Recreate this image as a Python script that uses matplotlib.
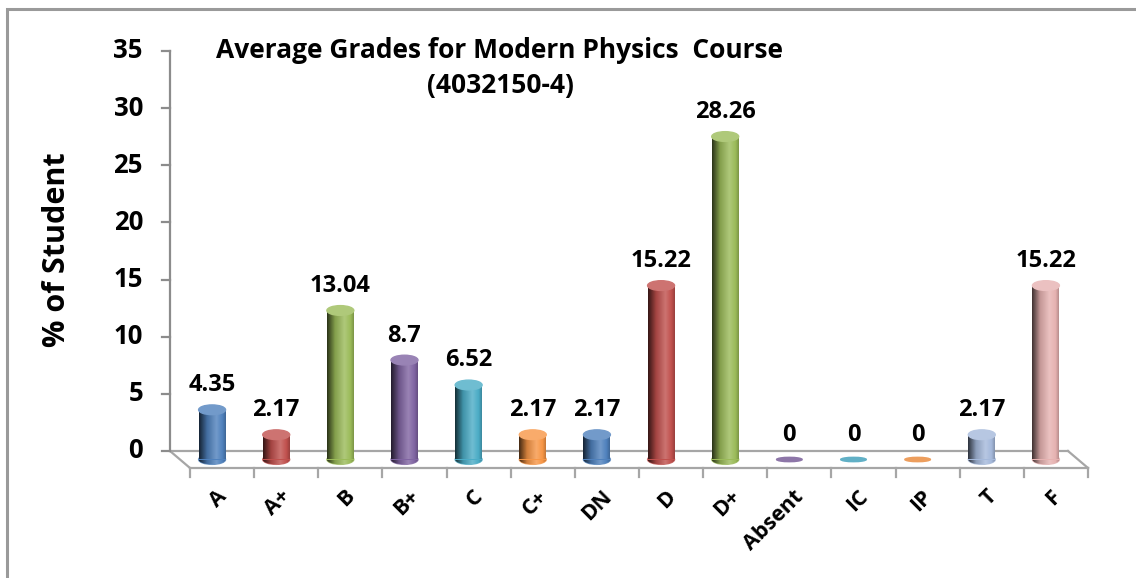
import numpy as np
import matplotlib
matplotlib.use("Agg")
import matplotlib.pyplot as plt
from matplotlib import transforms
from matplotlib.patches import Rectangle, Ellipse
from matplotlib.colors import LinearSegmentedColormap, to_rgb

# data
grades = ["A", "A+", "B", "B+", "C", "C+", "DN", "D", "D+", "Absent", "IC", "IP", "T", "F"]
percent = [4.35, 2.17, 13.04, 8.7, 6.52, 2.17, 2.17, 15.22, 28.26, 0, 0, 0, 2.17, 15.22]
labels = ["4.35", "2.17", "13.04", "8.7", "6.52", "2.17", "2.17", "15.22", "28.26", "0", "0", "0", "2.17", "15.22"]
colors = ["#4F81BD", "#C0504D", "#9BBB59", "#8064A2", "#4BACC6", "#F79646", "#4F81BD",
          "#C0504D", "#9BBB59", "#8064A2", "#4BACC6", "#F79646", "#A5B9DB", "#E6B2B1"]
yticks = [0, 5, 10, 15, 20, 25, 30, 35]

W, H = 1136, 578
fig = plt.figure(figsize=(W / 100, H / 100), dpi=100)
fig.patch.set_facecolor("white")
plt.rcParams["font.family"] = ["Open Sans", "DejaVu Sans"]
ident = transforms.IdentityTransform()

# outer frame (only top and left are visible)
fig.add_artist(Rectangle((7 / W, -0.1), 1.2, (H - 9) / H + 0.1, transform=fig.transFigure,
                         fill=False, ec="#9a9a9a", lw=2.2))

# back wall: x 170..1068, y 0 at 451, 35 at 51; axes extends below 0 to hold the floor
ymin = -3
ppu = 400 / 35
ax = fig.add_axes([170 / W, (H - 451 + ymin * ppu) / H, 898 / W, (35 - ymin) * ppu / H])
ax.set_xlim(0, len(grades))
ax.set_ylim(ymin, 35)
ax.axis("off")

n = len(grades)
dx_full, dy_full = 20, -17


def off(x, y):
    return transforms.offset_copy(ax.transData, fig=fig, x=x, y=y, units="dots")


bar_tr = off(10, -8.5)
front_tr = off(dx_full, dy_full)

grey = "#a6a6a6"
# floor
ax.plot([0, n], [0, 0], color=grey, lw=1.6, clip_on=False)
ax.plot([0, n], [0, 0], color=grey, lw=1.6, clip_on=False, transform=front_tr)
for xe in [0, n]:
    p0 = ax.transData.transform((xe, 0))
    ax.add_line(plt.Line2D([p0[0], p0[0] + dx_full], [p0[1], p0[1] + dy_full],
                           transform=ident, color=grey, lw=1.6, clip_on=False))
# y axis
ax.plot([0, 0], [0, 35], color="#8c8c8c", lw=1.6, clip_on=False)
for t in yticks:
    p = ax.transData.transform((0, t))
    ax.add_line(plt.Line2D([p[0] - 8, p[0]], [p[1], p[1]], transform=ident, color="#8c8c8c",
                           lw=1.6, clip_on=False))
    ax.text(0, t, str(t), transform=off(-27, 0), ha="right", va="center",
            fontsize=18.5, fontweight="bold")
# x ticks on front edge
for i in range(n + 1):
    p = front_tr.transform((i, 0))
    ax.add_line(plt.Line2D([p[0], p[0]], [p[1], p[1] - 9], transform=ident, color=grey,
                           lw=1.6, clip_on=False))

cyl_w = 0.42
ell_h = 0.85


def shade_cmap(c):
    r = np.array(to_rgb(c))
    dark = r * 0.28
    light = np.clip(r + (1 - r) * 0.2, 0, 1)
    return LinearSegmentedColormap.from_list("s", [(0, dark), (0.3, r * 0.85), (0.65, light),
                                                   (0.88, r), (1, r * 0.8)])


grad = np.linspace(0, 1, 64).reshape(1, -1)
for i, (v, c, lab) in enumerate(zip(percent, colors, labels)):
    xc = i + 0.5
    cm = shade_cmap(c)
    if v > 0:
        bottom = Ellipse((xc, 0), cyl_w, ell_h, transform=bar_tr, zorder=1.9, color=cm(0.6))
        ax.add_patch(bottom)
        im2 = ax.imshow(grad, cmap=cm, extent=(xc - cyl_w / 2, xc + cyl_w / 2, -ell_h / 2, ell_h / 2),
                        aspect="auto", zorder=1.95, transform=bar_tr)
        im2.set_clip_path(bottom)
        bars = ax.bar([xc], [v], width=cyl_w, bottom=0, color=c, transform=bar_tr, zorder=2, lw=0)
        im = ax.imshow(grad, cmap=cm, extent=(xc - cyl_w / 2, xc + cyl_w / 2, 0, v),
                       aspect="auto", zorder=2.1, transform=bar_tr)
        im.set_clip_path(bars[0])
        top_c = np.clip(np.array(to_rgb(c)) * 0.8 + 0.2, 0, 1)
        ax.add_patch(Ellipse((xc, v), cyl_w, ell_h, transform=bar_tr, zorder=2.3, color=top_c,
                             clip_on=False))
    else:
        ax.add_patch(Ellipse((xc, 0), cyl_w * 0.95, ell_h * 0.45, transform=bar_tr, zorder=2.3,
                             color=cm(0.55)))
    ax.text(xc, v, lab, transform=off(10, 4), ha="center", va="bottom",
            fontsize=17, fontweight="bold", zorder=3, clip_on=False)
    ax.text(xc, 0, grades[i], transform=off(dx_full - 6, dy_full - 18),
            ha="right", va="top", rotation=45, rotation_mode="anchor", fontsize=15.5,
            fontweight="bold", clip_on=False)

ax.set_xlim(0, n)
ax.set_ylim(ymin, 35)

fig.text(500 / W, (H - 50) / H, "Average Grades for Modern Physics  Course", ha="center", va="center",
         fontsize=19, fontweight="bold")
fig.text(500 / W, (H - 86) / H, "(4032150-4)", ha="center", va="center", fontsize=19,
         fontweight="bold")
fig.text(57 / W, (H - 250) / H, "% of Student", ha="center", va="center", rotation=90,
         fontsize=22, fontweight="bold")

fig.savefig("out.png", dpi=100, facecolor="white")
